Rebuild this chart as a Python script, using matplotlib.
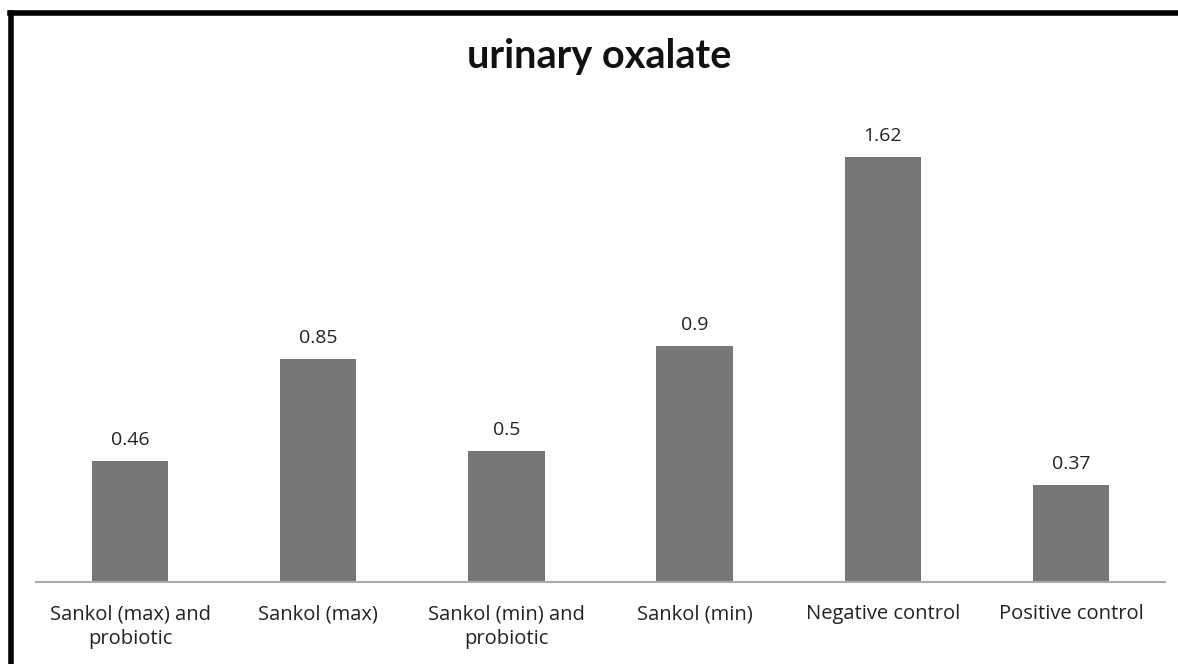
import matplotlib
matplotlib.use("Agg")
import matplotlib.pyplot as plt
from matplotlib.lines import Line2D

categories = ["Sankol (max) and\nprobiotic", "Sankol (max)", "Sankol (min) and\nprobiotic",
              "Sankol (min)", "Negative control", "Positive control"]
values = [0.46, 0.85, 0.5, 0.9, 1.62, 0.37]
value_labels = ["0.46", "0.85", "0.5", "0.9", "1.62", "0.37"]

W, H = 1178, 664
fig = plt.figure(figsize=(W / 100, H / 100), dpi=100)
ax = fig.add_axes([36 / W, 1 - 582 / H, (1165 - 36) / W, (582 - 110) / H])

x = list(range(len(categories)))
ax.bar(x, values, width=0.405, color="#777777")
ax.set_xlim(-0.5, len(categories) - 0.5)
ax.set_ylim(0, 1.8)

for xi, v, lab in zip(x, values, value_labels):
    ax.annotate(lab, (xi, v), xytext=(0, 11.5), textcoords="offset points",
                ha="center", va="baseline", fontsize=14, family="Open Sans", color="#222222")

ax.set_xticks(x)
ax.set_xticklabels(categories, fontsize=14.5, family="Open Sans", color="#222222", linespacing=1.3)
ax.tick_params(axis="x", length=0, pad=16)
ax.set_yticks([])
for s in ["top", "right", "left"]:
    ax.spines[s].set_visible(False)
ax.spines["bottom"].set_color("#aaaaaa")
ax.spines["bottom"].set_linewidth(1.5)

fig.text(599 / W, 1 - 68 / H, "urinary oxalate", ha="center", va="baseline",
         fontsize=28.5, fontweight="bold", family="Lato", color="#111111")

# black frame on top and left edges
fig.add_artist(Line2D([10 / W, 1.0], [1 - 12.5 / H, 1 - 12.5 / H], color="black", lw=4, solid_capstyle="projecting"))
fig.add_artist(Line2D([10.5 / W, 10.5 / W], [0, 1 - 12.5 / H], color="black", lw=4, solid_capstyle="projecting"))

fig.savefig("out.png", dpi=100)
